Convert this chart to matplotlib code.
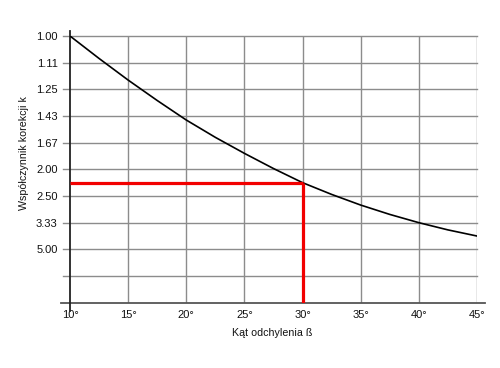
import matplotlib
matplotlib.use("Agg")
import matplotlib.pyplot as plt

plt.rcParams['font.family'] = ['Liberation Sans', 'DejaVu Sans']

# correction factor k, every 2.5 degrees
angles = [10, 12.5, 15, 17.5, 20, 22.5, 25, 27.5, 30, 32.5, 35, 37.5, 40, 42.5, 45]
k_vals = [1.0, 1.092, 1.198, 1.319, 1.460, 1.613, 1.786, 1.988, 2.222,
          2.463, 2.732, 3.021, 3.333, 3.663, 4.0]

ytick_k = [1.0, 10 / 9, 1.25, 10 / 7, 5 / 3, 2.0, 2.5, 10 / 3, 5.0, 10.0]
ytick_labels = ['1.00', '1.11', '1.25', '1.43', '1.67', '2.00', '2.50', '3.33', '5.00', '']
xticks = [10, 15, 20, 25, 30, 35, 40, 45]
xtick_labels = ['10°', '15°', '20°', '25°', '30°', '35°', '40°', '45°']
marked_angle = 30


def to_axis(k):
    # the chart's y axis is linear in 1 - 1/k
    return 1 - 1 / k


fig = plt.figure(figsize=(5.0, 3.68), dpi=100)
W, H = 500, 368
left, right, top, bottom = 70, 477, 36, 302.7
ax = fig.add_axes([left / W, 1 - bottom / H, (right - left) / W, (bottom - top) / H])
ax.set_xlim(10, 45)
ax.set_ylim(1, 0)
for s in ax.spines.values():
    s.set_visible(False)

grid_c = '#8c8c8c'
ext = 7 / (right - left)
for k in ytick_k:
    ax.plot([-ext, 1], [to_axis(k)] * 2, color=grid_c, lw=1.0,
            transform=ax.get_yaxis_transform(), clip_on=False, zorder=1)
for a in xticks[1:]:
    ax.axvline(a, color=grid_c, lw=1.0, zorder=1)

# axis lines
ax.plot([-9 / (right - left), 1 + 8 / (right - left)], [1, 1], color='#555555', lw=1.3,
        transform=ax.get_yaxis_transform(), clip_on=False, zorder=3)
ax.plot([10, 10], [-8 / (bottom - top), 1 + 5.5 / (bottom - top)], color='#222222', lw=1.3,
        transform=ax.get_xaxis_transform(), clip_on=False, zorder=3)

# curve
ax.plot(angles, [to_axis(k) for k in k_vals], color='black', lw=1.2, zorder=4)

# red reading lines at 30 degrees
k30 = k_vals[angles.index(marked_angle)]
ax.plot([10, marked_angle], [to_axis(k30)] * 2, color='#f20000', lw=2.3,
        solid_capstyle='butt', zorder=5)
ax.plot([marked_angle, marked_angle], [to_axis(k30), 1], color='#f20000', lw=2.3,
        solid_capstyle='butt', zorder=5)

ax.set_yticks([to_axis(k) for k in ytick_k], ytick_labels)
ax.set_xticks(xticks, xtick_labels)
ax.tick_params(axis='both', length=0, labelsize=8, colors='#111111')
ax.tick_params(axis='y', pad=9)
ax.tick_params(axis='x', pad=5.5)

fig.text(272 / W, 1 - 333 / H, 'Kąt odchylenia ß', ha='center', va='center',
         fontsize=7.7, color='#111111')
fig.text(24 / W, 1 - 153 / H, 'Współczynnik korekcji k', ha='center', va='center',
         rotation=90, fontsize=7.7, color='#111111')

fig.savefig('out.png', dpi=100)
